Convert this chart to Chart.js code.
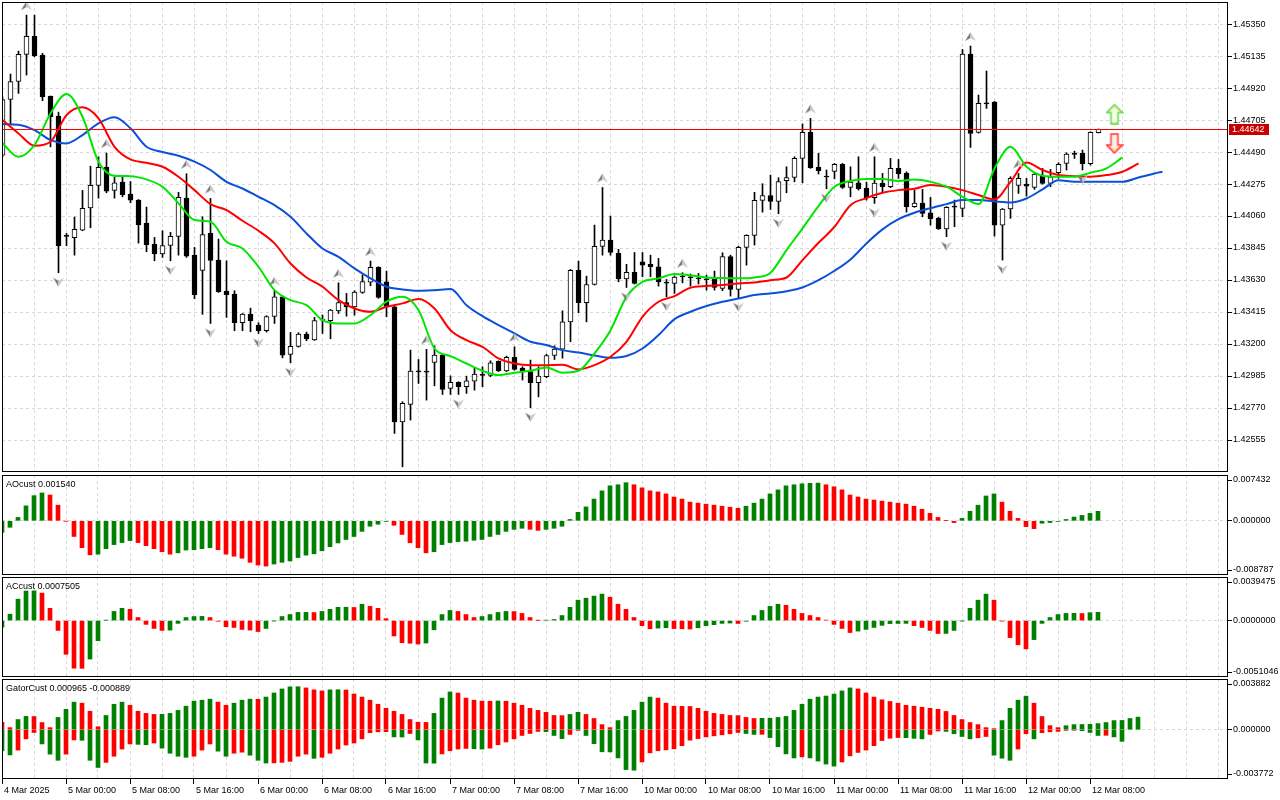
<!DOCTYPE html>
<html>
<head>
<meta charset="utf-8">
<title>H1 chart with Alligator, AO, AC and Gator</title>
<script src="https://cdn.jsdelivr.net/npm/chart.js@4.4.1/dist/chart.umd.min.js"></script>
<style>
  html, body { margin: 0; padding: 0; background: #fff; }
  #wrap { position: relative; width: 1280px; height: 800px; overflow: hidden; }
  #wrap canvas { position: absolute; left: 0; }
</style>
</head>
<body>
<div id="wrap">
  <canvas id="mainChart" width="1280" height="474" style="top:0px"></canvas>
  <canvas id="aoChart" width="1280" height="102" style="top:474px"></canvas>
  <canvas id="acChart" width="1280" height="102" style="top:576px"></canvas>
  <canvas id="gatorChart" width="1280" height="122" style="top:678px"></canvas>
</div>
<script>
// ---- data (one H1 bar per index, bar 0 = 4 Mar 16:00) ----
const timeLabels = ['4 Mar 2025', '5 Mar 00:00', '5 Mar 08:00', '5 Mar 16:00', '6 Mar 00:00', '6 Mar 08:00',
  '6 Mar 16:00', '7 Mar 00:00', '7 Mar 08:00', '7 Mar 16:00', '10 Mar 00:00', '10 Mar 08:00',
  '10 Mar 16:00', '11 Mar 00:00', '11 Mar 08:00', '11 Mar 16:00', '12 Mar 00:00', '12 Mar 08:00'];

const priceTicks = [1.42555, 1.42770, 1.42985, 1.43200, 1.43415, 1.43630, 1.43845,
  1.44060, 1.44275, 1.44490, 1.44705, 1.44920, 1.45135, 1.45350];

const opens = [1.44469, 1.44843, 1.44964, 1.45146, 1.45267, 1.45141, 1.44866, 1.44731, 1.43925, 1.43914,
  1.43965, 1.44115, 1.44266, 1.44387, 1.44232, 1.44288, 1.44207, 1.44167, 1.44012, 1.43869,
  1.43806, 1.43862, 1.43923, 1.44180, 1.43797, 1.43694, 1.43943, 1.43764, 1.43555, 1.43535,
  1.43343, 1.43401, 1.43327, 1.43289, 1.43385, 1.43517, 1.43130, 1.43184, 1.43267, 1.43228,
  1.43360, 1.43356, 1.43423, 1.43479, 1.43450, 1.43546, 1.43616, 1.43715, 1.43618, 1.43450,
  1.42677, 1.42794, 1.43013, 1.43011, 1.43076, 1.43125, 1.42902, 1.42942, 1.42913, 1.42951,
  1.42989, 1.42989, 1.43083, 1.43020, 1.43110, 1.43038, 1.43015, 1.42940, 1.42980, 1.43123,
  1.43166, 1.43349, 1.43695, 1.43477, 1.43600, 1.43856, 1.43898, 1.43809, 1.43638, 1.43681,
  1.43753, 1.43735, 1.43719, 1.43611, 1.43607, 1.43650, 1.43650, 1.43643, 1.43636, 1.43634,
  1.43573, 1.43788, 1.43567, 1.43849, 1.43930, 1.44165, 1.44198, 1.44158, 1.44297, 1.44319,
  1.44447, 1.44622, 1.44387, 1.44326, 1.44360, 1.44407, 1.44252, 1.44283, 1.44248, 1.44183,
  1.44281, 1.44257, 1.44380, 1.44348, 1.44123, 1.44147, 1.44082, 1.44046, 1.43974, 1.44120,
  1.44111, 1.45148, 1.44622, 1.44819, 1.44826, 1.43999, 1.44107, 1.44266, 1.44274, 1.44252,
  1.44328, 1.44279, 1.44351, 1.44413, 1.44478, 1.44481, 1.44411, 1.44620];
const highs = [1.44861, 1.45014, 1.45168, 1.45410, 1.45410, 1.45153, 1.44866, 1.44758, 1.43943, 1.44053,
  1.44232, 1.44395, 1.44458, 1.44483, 1.44324, 1.44324, 1.44292, 1.44171, 1.44120, 1.43916,
  1.43961, 1.43950, 1.44219, 1.44344, 1.43849, 1.44055, 1.44178, 1.43905, 1.43759, 1.43558,
  1.43405, 1.43441, 1.43343, 1.43390, 1.43558, 1.43522, 1.43278, 1.43276, 1.43280, 1.43379,
  1.43394, 1.43432, 1.43611, 1.43540, 1.43558, 1.43663, 1.43757, 1.43719, 1.43690, 1.43455,
  1.42812, 1.43159, 1.43096, 1.43164, 1.43188, 1.43130, 1.42986, 1.42946, 1.42984, 1.43043,
  1.43047, 1.43087, 1.43087, 1.43119, 1.43181, 1.43047, 1.43092, 1.43047, 1.43132, 1.43188,
  1.43423, 1.43701, 1.43757, 1.43656, 1.43999, 1.44252, 1.44060, 1.43836, 1.43735, 1.43815,
  1.43815, 1.43797, 1.43775, 1.43634, 1.43658, 1.43679, 1.43670, 1.43674, 1.43663, 1.43690,
  1.43813, 1.43797, 1.43858, 1.43934, 1.44219, 1.44277, 1.44335, 1.44317, 1.44391, 1.44458,
  1.44678, 1.44716, 1.44481, 1.44369, 1.44413, 1.44413, 1.44391, 1.44458, 1.44288, 1.44458,
  1.44346, 1.44447, 1.44440, 1.44357, 1.44234, 1.44239, 1.44185, 1.44051, 1.44123, 1.44167,
  1.45179, 1.45202, 1.44873, 1.45034, 1.44830, 1.44111, 1.44324, 1.44346, 1.44313, 1.44351,
  1.44380, 1.44373, 1.44418, 1.44485, 1.44496, 1.44503, 1.44626, 1.44645];
const lows = [1.44458, 1.44678, 1.44884, 1.45007, 1.45130, 1.44835, 1.44525, 1.43679, 1.43860, 1.43797,
  1.43961, 1.43981, 1.44180, 1.44216, 1.44180, 1.44189, 1.44149, 1.43878, 1.43820, 1.43759,
  1.43782, 1.43759, 1.43797, 1.43782, 1.43504, 1.43399, 1.43338, 1.43547, 1.43379, 1.43289,
  1.43289, 1.43282, 1.43271, 1.43280, 1.43338, 1.43107, 1.43074, 1.43179, 1.43222, 1.43224,
  1.43271, 1.43235, 1.43405, 1.43387, 1.43394, 1.43540, 1.43591, 1.43507, 1.43383, 1.42599,
  1.42375, 1.42689, 1.42935, 1.42823, 1.42919, 1.42861, 1.42861, 1.42861, 1.42868, 1.42890,
  1.42913, 1.42980, 1.43015, 1.43015, 1.43024, 1.42958, 1.42772, 1.42845, 1.42973, 1.43096,
  1.43105, 1.43215, 1.43410, 1.43349, 1.43596, 1.43797, 1.43797, 1.43618, 1.43580, 1.43603,
  1.43652, 1.43652, 1.43589, 1.43517, 1.43540, 1.43611, 1.43589, 1.43603, 1.43562, 1.43562,
  1.43558, 1.43522, 1.43511, 1.43730, 1.43865, 1.44086, 1.44104, 1.44075, 1.44216, 1.44290,
  1.44283, 1.44380, 1.44342, 1.44243, 1.44310, 1.44245, 1.44189, 1.44234, 1.44167, 1.44145,
  1.44216, 1.44250, 1.44313, 1.44086, 1.44118, 1.44055, 1.43999, 1.43970, 1.43921, 1.43988,
  1.44055, 1.44521, 1.44617, 1.44783, 1.43925, 1.43764, 1.44044, 1.44212, 1.44194, 1.44239,
  1.44274, 1.44257, 1.44313, 1.44369, 1.44447, 1.44369, 1.44402, 1.44618];
const closes = [1.44843, 1.44964, 1.45146, 1.45267, 1.45137, 1.44861, 1.44727, 1.43860, 1.43923, 1.43970,
  1.44111, 1.44266, 1.44387, 1.44227, 1.44283, 1.44203, 1.44167, 1.44001, 1.43867, 1.43806,
  1.43862, 1.43923, 1.44185, 1.43791, 1.43531, 1.43936, 1.43762, 1.43551, 1.43531, 1.43343,
  1.43401, 1.43356, 1.43289, 1.43385, 1.43517, 1.43125, 1.43184, 1.43267, 1.43235, 1.43358,
  1.43365, 1.43428, 1.43479, 1.43450, 1.43549, 1.43620, 1.43715, 1.43513, 1.43450, 1.42677,
  1.42801, 1.43018, 1.43015, 1.43015, 1.43125, 1.42895, 1.42942, 1.42913, 1.42953, 1.42998,
  1.42993, 1.43074, 1.43020, 1.43110, 1.43029, 1.43020, 1.42940, 1.42984, 1.43123, 1.43166,
  1.43349, 1.43695, 1.43477, 1.43600, 1.43856, 1.43898, 1.43815, 1.43638, 1.43681, 1.43607,
  1.43730, 1.43719, 1.43618, 1.43609, 1.43650, 1.43654, 1.43645, 1.43638, 1.43632, 1.43580,
  1.43788, 1.43567, 1.43849, 1.43930, 1.44165, 1.44198, 1.44158, 1.44292, 1.44319, 1.44447,
  1.44622, 1.44384, 1.44364, 1.44322, 1.44407, 1.44252, 1.44288, 1.44243, 1.44183, 1.44281,
  1.44257, 1.44380, 1.44344, 1.44123, 1.44147, 1.44077, 1.44042, 1.43974, 1.44118, 1.44124,
  1.45148, 1.44615, 1.44817, 1.44814, 1.43999, 1.44107, 1.44313, 1.44313, 1.44261, 1.44342,
  1.44279, 1.44324, 1.44407, 1.44476, 1.44474, 1.44411, 1.44622, 1.44642];

// Alligator lines, [bar, price]; jaw/teeth/lips run 8/5/3 bars past the last candle
const jawLine = [[0, 1.44678], [2, 1.44673], [4, 1.44637], [6, 1.44570], [8, 1.44548], [10, 1.44604],
  [12, 1.44682], [14, 1.44723], [16, 1.44649], [18, 1.44525], [20, 1.44490], [22, 1.44465], [24, 1.44425],
  [26, 1.44369], [28, 1.44290], [30, 1.44245], [32, 1.44189], [34, 1.44133], [36, 1.44055], [38, 1.43943],
  [40, 1.43842], [42, 1.43786], [44, 1.43708], [46, 1.43641], [48, 1.43585], [50, 1.43567], [52, 1.43558],
  [54, 1.43562], [56, 1.43569], [58, 1.43461], [60, 1.43387], [62, 1.43327], [64, 1.43271], [66, 1.43215],
  [68, 1.43193], [70, 1.43159], [72, 1.43143], [74, 1.43123], [76, 1.43107], [78, 1.43119], [80, 1.43170],
  [82, 1.43260], [84, 1.43367], [86, 1.43417], [88, 1.43455], [90, 1.43484], [92, 1.43506], [94, 1.43529],
  [96, 1.43540], [98, 1.43555], [100, 1.43580], [102, 1.43629], [104, 1.43692], [106, 1.43768], [108, 1.43876],
  [110, 1.43970], [112, 1.44039], [114, 1.44082], [116, 1.44113], [118, 1.44140], [120, 1.44167], [122, 1.44167],
  [124, 1.44158], [126, 1.44151], [128, 1.44178], [130, 1.44239], [132, 1.44301], [134, 1.44290], [136, 1.44290],
  [138, 1.44290], [140, 1.44290], [142, 1.44319], [144, 1.44346], [145, 1.44357]];
const teethLine = [[0, 1.44705], [2, 1.44615], [4, 1.44532], [6, 1.44559], [8, 1.44738], [10, 1.44790],
  [12, 1.44716], [14, 1.44525], [16, 1.44440], [18, 1.44418], [20, 1.44391], [22, 1.44324], [24, 1.44234],
  [26, 1.44140], [28, 1.44100], [30, 1.44028], [32, 1.43961], [34, 1.43876], [36, 1.43741], [38, 1.43647],
  [40, 1.43585], [42, 1.43495], [44, 1.43439], [46, 1.43417], [48, 1.43450], [50, 1.43473], [52, 1.43502],
  [54, 1.43439], [56, 1.43293], [58, 1.43226], [60, 1.43181], [62, 1.43103], [64, 1.43069], [66, 1.43058],
  [68, 1.43058], [70, 1.43060], [72, 1.43029], [74, 1.43058], [76, 1.43114], [78, 1.43215], [80, 1.43383],
  [82, 1.43484], [84, 1.43522], [86, 1.43578], [88, 1.43589], [90, 1.43596], [92, 1.43607], [94, 1.43614],
  [96, 1.43629], [98, 1.43647], [100, 1.43764], [102, 1.43880], [104, 1.43988], [106, 1.44133], [108, 1.44180],
  [110, 1.44216], [112, 1.44234], [114, 1.44243], [116, 1.44268], [118, 1.44257], [120, 1.44234], [122, 1.44201],
  [124, 1.44171], [126, 1.44290], [128, 1.44420], [130, 1.44369], [132, 1.44335], [134, 1.44328], [136, 1.44324],
  [138, 1.44335], [140, 1.44357], [142, 1.44413]];
const lipsLine = [[0, 1.44548], [2, 1.44458], [4, 1.44537], [6, 1.44749], [8, 1.44879], [10, 1.44727],
  [12, 1.44425], [14, 1.44331], [16, 1.44328], [18, 1.44306], [20, 1.44257], [22, 1.44145], [24, 1.44033],
  [26, 1.44021], [28, 1.43887], [30, 1.43842], [32, 1.43719], [34, 1.43562], [36, 1.43495], [38, 1.43461],
  [40, 1.43360], [42, 1.43338], [44, 1.43338], [46, 1.43394], [48, 1.43484], [50, 1.43517], [52, 1.43428],
  [54, 1.43170], [56, 1.43119], [58, 1.43069], [60, 1.43020], [62, 1.42991], [64, 1.43007], [66, 1.43020],
  [68, 1.43042], [70, 1.43007], [72, 1.43020], [74, 1.43137], [76, 1.43293], [78, 1.43517], [80, 1.43618],
  [82, 1.43641], [84, 1.43670], [86, 1.43661], [88, 1.43647], [90, 1.43643], [92, 1.43641], [94, 1.43647],
  [96, 1.43679], [98, 1.43831], [100, 1.43977], [102, 1.44127], [104, 1.44257], [106, 1.44295], [108, 1.44308],
  [110, 1.44308], [112, 1.44295], [114, 1.44306], [116, 1.44290], [118, 1.44257], [120, 1.44189], [122, 1.44140],
  [124, 1.44380], [126, 1.44525], [128, 1.44391], [130, 1.44331], [132, 1.44324], [134, 1.44324], [136, 1.44351],
  [138, 1.44380], [140, 1.44454]];

const fractalUpBars = [3, 13, 23, 26, 34, 42, 46, 53, 64, 75, 85, 101, 109, 121, 127];
const fractalDownBars = [7, 21, 26, 32, 36, 50, 57, 66, 78, 83, 92, 97, 103, 109, 118, 125, 135];

const bidPrice = 1.44642;
const signalBar = 139;
const signalUpPrice = 1.44745;
const signalDownPrice = 1.44547;

const aoValues = [-0.00188, -0.00105, 0.00055, 0.00243, 0.00408, 0.00452, 0.00419, 0.00254, -0.00005, -0.00254,
  -0.00436, -0.00552, -0.00541, -0.00452, -0.00386, -0.00353, -0.00320, -0.00353, -0.00403, -0.00452,
  -0.00502, -0.00541, -0.00519, -0.00474, -0.00469, -0.00452, -0.00436, -0.00469, -0.00541, -0.00574,
  -0.00607, -0.00673, -0.00717, -0.00734, -0.00701, -0.00673, -0.00651, -0.00596, -0.00557, -0.00535,
  -0.00486, -0.00419, -0.00359, -0.00303, -0.00254, -0.00171, -0.00088, -0.00055, -0.00010, -0.00072,
  -0.00221, -0.00356, -0.00436, -0.00519, -0.00502, -0.00386, -0.00353, -0.00337, -0.00331, -0.00315,
  -0.00303, -0.00254, -0.00221, -0.00171, -0.00138, -0.00121, -0.00138, -0.00155, -0.00138, -0.00121,
  -0.00088, 0.00022, 0.00138, 0.00226, 0.00353, 0.00486, 0.00568, 0.00585, 0.00618, 0.00585,
  0.00535, 0.00486, 0.00469, 0.00436, 0.00386, 0.00353, 0.00303, 0.00287, 0.00270, 0.00254,
  0.00237, 0.00221, 0.00204, 0.00237, 0.00287, 0.00353, 0.00436, 0.00502, 0.00568, 0.00585,
  0.00601, 0.00608, 0.00612, 0.00585, 0.00552, 0.00502, 0.00419, 0.00386, 0.00353, 0.00337,
  0.00320, 0.00303, 0.00287, 0.00270, 0.00237, 0.00188, 0.00121, 0.00055, 0.00005, -0.00028,
  0.00039, 0.00155, 0.00254, 0.00403, 0.00436, 0.00303, 0.00155, 0.00039, -0.00094, -0.00127,
  -0.00039, -0.00028, -0.00010, 0.00022, 0.00061, 0.00088, 0.00121, 0.00154];

const acValues = [-0.00059, 0.00058, 0.00194, 0.00268, 0.00269, 0.00249, 0.00111, -0.00089, -0.00305, -0.00431,
  -0.00432, -0.00348, -0.00182, 0.00003, 0.00083, 0.00111, 0.00102, 0.00028, -0.00034, -0.00071,
  -0.00089, -0.00086, -0.00025, 0.00028, 0.00037, 0.00038, 0.00028, -0.00006, -0.00055, -0.00062,
  -0.00080, -0.00086, -0.00099, -0.00071, -0.00002, 0.00037, 0.00055, 0.00074, 0.00075, 0.00073,
  0.00083, 0.00102, 0.00120, 0.00121, 0.00119, 0.00148, 0.00129, 0.00111, 0.00018, -0.00139,
  -0.00200, -0.00205, -0.00212, -0.00203, -0.00083, 0.00055, 0.00092, 0.00083, 0.00055, 0.00028,
  0.00037, 0.00055, 0.00074, 0.00083, 0.00082, 0.00065, 0.00028, 0.00002, 0.00004, 0.00010,
  0.00046, 0.00120, 0.00185, 0.00203, 0.00222, 0.00240, 0.00212, 0.00148, 0.00102, 0.00028,
  -0.00046, -0.00074, -0.00068, -0.00064, -0.00072, -0.00074, -0.00076, -0.00065, -0.00046, -0.00037,
  -0.00025, -0.00022, -0.00026, -0.00006, 0.00046, 0.00092, 0.00129, 0.00148, 0.00139, 0.00102,
  0.00065, 0.00046, 0.00028, 0.00005, -0.00034, -0.00071, -0.00108, -0.00095, -0.00080, -0.00062,
  -0.00043, -0.00027, -0.00026, -0.00025, -0.00046, -0.00062, -0.00089, -0.00117, -0.00116, -0.00089,
  -0.00002, 0.00111, 0.00185, 0.00240, 0.00185, -0.00003, -0.00154, -0.00219, -0.00256, -0.00172,
  -0.00025, 0.00028, 0.00055, 0.00065, 0.00066, 0.00064, 0.00072, 0.00075];

const gatorUpper = [0.00057, 0.00016, 0.00078, 0.00102, 0.00101, 0.00055, 0.00016, 0.00094, 0.00156, 0.00211,
  0.00203, 0.00141, 0.00023, 0.00109, 0.00195, 0.00211, 0.00187, 0.00141, 0.00125, 0.00117,
  0.00118, 0.00125, 0.00148, 0.00180, 0.00219, 0.00226, 0.00234, 0.00211, 0.00187, 0.00203,
  0.00226, 0.00234, 0.00233, 0.00250, 0.00281, 0.00312, 0.00328, 0.00329, 0.00320, 0.00305,
  0.00297, 0.00305, 0.00306, 0.00304, 0.00273, 0.00250, 0.00226, 0.00195, 0.00164, 0.00141,
  0.00117, 0.00078, 0.00057, 0.00056, 0.00125, 0.00242, 0.00289, 0.00281, 0.00242, 0.00226,
  0.00219, 0.00218, 0.00220, 0.00218, 0.00203, 0.00187, 0.00164, 0.00148, 0.00133, 0.00109,
  0.00108, 0.00117, 0.00133, 0.00117, 0.00086, 0.00039, 0.00016, 0.00070, 0.00102, 0.00148,
  0.00211, 0.00250, 0.00242, 0.00203, 0.00180, 0.00179, 0.00178, 0.00164, 0.00141, 0.00125,
  0.00117, 0.00109, 0.00108, 0.00094, 0.00086, 0.00087, 0.00088, 0.00094, 0.00102, 0.00148,
  0.00195, 0.00234, 0.00250, 0.00258, 0.00273, 0.00297, 0.00320, 0.00312, 0.00281, 0.00250,
  0.00229, 0.00216, 0.00203, 0.00187, 0.00180, 0.00172, 0.00164, 0.00156, 0.00140, 0.00109,
  0.00078, 0.00055, 0.00039, 0.00016, 0.00008, 0.00070, 0.00164, 0.00226, 0.00257, 0.00203,
  0.00101, 0.00031, 0.00016, 0.00031, 0.00039, 0.00040, 0.00041, 0.00047, 0.00055, 0.00070,
  0.00071, 0.00086, 0.000965];
const gatorLower = [-0.00161, -0.00193, -0.00156, -0.00070, -0.00021, -0.00109, -0.00187, -0.00234, -0.00187, -0.00078,
  -0.00081, -0.00234, -0.00289, -0.00250, -0.00203, -0.00148, -0.00109, -0.00112, -0.00115, -0.00102,
  -0.00141, -0.00180, -0.00203, -0.00211, -0.00203, -0.00156, -0.00109, -0.00164, -0.00203, -0.00180,
  -0.00172, -0.00195, -0.00234, -0.00255, -0.00254, -0.00250, -0.00242, -0.00203, -0.00187, -0.00219,
  -0.00211, -0.00180, -0.00148, -0.00117, -0.00102, -0.00070, -0.00023, -0.00016, -0.00015, -0.00055,
  -0.00056, -0.00029, -0.00078, -0.00255, -0.00256, -0.00185, -0.00161, -0.00148, -0.00143, -0.00146,
  -0.00148, -0.00141, -0.00115, -0.00094, -0.00070, -0.00044, -0.00029, -0.00013, -0.00015, -0.00044,
  -0.00068, -0.00036, -0.00005, -0.00044, -0.00107, -0.00169, -0.00170, -0.00216, -0.00305, -0.00310,
  -0.00247, -0.00177, -0.00161, -0.00154, -0.00146, -0.00122, -0.00080, -0.00068, -0.00055, -0.00047,
  -0.00039, -0.00031, -0.00021, -0.00029, -0.00036, -0.00035, -0.00060, -0.00130, -0.00185, -0.00216,
  -0.00208, -0.00216, -0.00240, -0.00263, -0.00279, -0.00247, -0.00200, -0.00174, -0.00156, -0.00122,
  -0.00083, -0.00065, -0.00060, -0.00061, -0.00066, -0.00070, -0.00036, -0.00010, -0.00013, -0.00031,
  -0.00052, -0.00070, -0.00062, -0.00052, -0.00195, -0.00218, -0.00234, -0.00148, -0.00031, -0.00070,
  -0.00023, -0.00016, -0.00013, -0.00005, -0.00004, -0.00008, -0.00021, -0.00044, -0.00043, -0.00055,
  -0.000889];

// ---- drawing ----
const FONT_FAMILY = '"Liberation Sans", Arial, sans-serif';
const FONT = '9px ' + FONT_FAMILY;
const GRID = '#d8d8d8';
const GREEN = '#008000';
const RED = '#ff0000';
const BID_RED = '#ff0000';
const CLEAR = 'rgba(0,0,0,0)';

Chart.defaults.font.family = FONT_FAMILY;
Chart.defaults.font.size = 9;
Chart.defaults.color = '#000';

// every 4th bar gets a vertical grid line, every 8th a time label
const gridBars = [];
for (let b = 0; b <= 152; b += 4) gridBars.push(b);
const labelFor = v => (v % 8 === 0 && timeLabels[v / 8]) || '';

const risingColors = (values, first) =>
  values.map((v, i) => i === 0 ? first : (v > values[i - 1] ? GREEN : RED));
const wideningColors = (values, first) =>
  values.map((v, i) => i === 0 ? first : (Math.abs(v) > Math.abs(values[i - 1]) ? GREEN : RED));

const panelDecor = {
  id: 'panelDecor',
  afterDatasetsDraw(chart, args, opts) {
    if (opts.bid == null) return;
    const { ctx, chartArea: a } = chart;
    const py = Math.round(chart.scales.y.getPixelForValue(opts.bid));
    ctx.save();
    ctx.globalAlpha = 1;
    ctx.globalCompositeOperation = 'source-over';
    ctx.fillStyle = BID_RED;
    ctx.fillRect(a.left, py, a.right - a.left, 1);
    ctx.restore();
  },
  afterDraw(chart, args, opts) {
    const { ctx, chartArea: a } = chart;
    ctx.save();
    ctx.strokeStyle = '#000';
    ctx.lineWidth = 1;
    ctx.strokeRect(a.left + 0.5, a.top + 0.5, a.right - a.left - 1, a.bottom - a.top - 1);
    ctx.font = FONT;
    ctx.fillStyle = '#000';
    ctx.textBaseline = 'middle';
    if (opts.title) ctx.fillText(opts.title, a.left + 4, a.top + 9.5);
    if (opts.bid != null) {
      const py = Math.round(chart.scales.y.getPixelForValue(opts.bid));
      ctx.fillStyle = '#c80000';
      ctx.fillRect(a.right + 1, py - 5, 40, 11);
      ctx.fillStyle = '#fff';
      ctx.fillText(opts.bid.toFixed(5), a.right + 4, py + 0.5);
    }
    ctx.restore();
  }
};
Chart.register(panelDecor);

const xScale = (min, max, showLabels) => ({
  type: 'linear', min: min, max: max, offset: false,
  afterBuildTicks: s => { s.ticks = gridBars.map(v => ({ value: v })); },
  afterFit: s => { s.height = showLabels ? 21 : 0; s.paddingLeft = 0; s.paddingRight = 0; },
  ticks: {
    display: showLabels, autoSkip: false, maxRotation: 0, minRotation: 0,
    align: 'start', labelOffset: 2, padding: 1, callback: v => labelFor(v)
  },
  grid: {
    offset: false, color: GRID, drawTicks: showLabels, tickLength: 5, tickBorderDash: [],
    tickColor: c => (c.tick && labelFor(c.tick.value)) ? '#000' : CLEAR
  },
  border: { display: false, dash: [3, 3] }
});

const fixedWidth = s => { s.width = 52; s.paddingTop = 0; s.paddingBottom = 0; };

const subScale = (lo, hi, labels) => ({
  position: 'right', min: lo, max: hi,
  afterBuildTicks: s => {
    const pad = (hi - lo) * 0.05;
    s.ticks = [{ value: lo + pad }, { value: 0 }, { value: hi - pad }];
  },
  afterFit: fixedWidth,
  ticks: { autoSkip: false, padding: 1, callback: (v, i) => labels[i] },
  grid: { color: c => (c.tick && c.tick.value === 0) ? GRID : CLEAR, tickColor: '#000', tickLength: 4, tickBorderDash: [] },
  border: { display: false, dash: [3, 3] }
});

const baseOptions = (padding, scales, decor) => ({
  responsive: false, animation: false, devicePixelRatio: 1, events: [],
  layout: { padding: padding, autoPadding: false },
  plugins: { legend: { display: false }, tooltip: { enabled: false }, panelDecor: decor },
  scales: scales
});

// point images: fractal arrowheads and the two signal arrows
const fractalImage = (up) => {
  const c = document.createElement('canvas');
  c.width = 11; c.height = 30;
  const g = c.getContext('2d');
  g.translate(0, up ? 1 : 20);
  if (!up) { g.translate(0, 9); g.scale(1, -1); }
  g.beginPath(); g.moveTo(5.5, 0); g.lineTo(5.5, 6); g.lineTo(0, 9); g.closePath();
  g.fillStyle = '#7d7d7d'; g.fill();
  g.beginPath(); g.moveTo(5.5, 0); g.lineTo(11, 9); g.lineTo(5.5, 6); g.closePath();
  g.fillStyle = '#c9c9c9'; g.fill();
  return c;
};

const signalImage = (up) => {
  const c = document.createElement('canvas');
  c.width = 18; c.height = 21;
  const g = c.getContext('2d');
  if (!up) { g.translate(0, 21); g.scale(1, -1); }
  g.beginPath();
  g.moveTo(9, 1); g.lineTo(17, 9); g.lineTo(12.5, 9); g.lineTo(12.5, 20); g.lineTo(5.5, 20);
  g.lineTo(5.5, 9); g.lineTo(1, 9); g.closePath();
  const grad = g.createLinearGradient(0, 0, 18, 0);
  grad.addColorStop(0, up ? '#f0ffe0' : '#fff0e0');
  grad.addColorStop(1, up ? '#fffff0' : '#ffe8e8');
  g.fillStyle = grad; g.fill();
  g.lineWidth = 1.5;
  g.strokeStyle = up ? '#66d44a' : '#ff3a3a';
  g.stroke();
  g.lineWidth = 0.8;
  g.strokeStyle = up ? '#d8e86a' : '#ffa040';
  g.beginPath();
  g.moveTo(9, 3.5); g.lineTo(14, 8); g.moveTo(9, 3.5); g.lineTo(4, 8);
  g.stroke();
  return c;
};

const pointsOf = pairs => pairs.map(p => ({ x: p[0], y: p[1] }));
const lineSet = (pairs, color, order) => ({
  type: 'line', data: pointsOf(pairs), borderColor: color, borderWidth: 2,
  pointRadius: 0, cubicInterpolationMode: 'monotone', order: order
});
const markerSet = (points, image, order) => ({
  type: 'line', data: points, showLine: false, pointStyle: image, pointRadius: 5, order: order
});

const isBull = i => closes[i] - opens[i] > 0.00005;

// ---- main price panel ----
const X_MIN = -0.0625, X_MAX = 153.1875;
new Chart(document.getElementById('mainChart'), {
  type: 'line',
  data: {
    datasets: [
      {
        type: 'bar', order: 6, grouped: false, barThickness: 1, backgroundColor: '#000', borderWidth: 0,
        data: opens.map((o, i) => ({ x: i, y: [lows[i], highs[i]] }))
      },
      {
        type: 'bar', order: 5, grouped: false, barThickness: 5, minBarLength: 1,
        borderWidth: 1, borderColor: '#000', borderSkipped: false,
        backgroundColor: opens.map((o, i) => isBull(i) ? '#fff' : '#000'),
        data: opens.map((o, i) => ({ x: i, y: [Math.min(o, closes[i]), Math.max(o, closes[i])] }))
      },
      lineSet(jawLine, '#0a50d8', 4),
      lineSet(teethLine, '#ff0000', 3),
      lineSet(lipsLine, '#00e600', 2),
      markerSet(fractalUpBars.map(i => ({ x: i, y: highs[i] })), fractalImage(true), 1),
      markerSet(fractalDownBars.map(i => ({ x: i, y: lows[i] })), fractalImage(false), 1),
      markerSet([{ x: signalBar, y: signalUpPrice }], signalImage(true), 0),
      markerSet([{ x: signalBar, y: signalDownPrice }], signalImage(false), 0)
    ]
  },
  options: baseOptions({ left: 2, top: 2, right: 0, bottom: 2 }, {
    x: xScale(X_MIN, X_MAX, false),
    y: {
      position: 'right', min: 1.42340, max: 1.45498,
      afterBuildTicks: s => { s.ticks = priceTicks.map(v => ({ value: v })); },
      afterFit: fixedWidth,
      ticks: { autoSkip: false, padding: 1, callback: v => v.toFixed(5) },
      grid: { color: GRID, tickColor: '#000', tickLength: 4, tickBorderDash: [] },
      border: { display: false, dash: [3, 3] }
    }
  }, { bid: bidPrice })
});

// ---- indicator panels ----
const SUB_MIN = 0, SUB_MAX = 153.25;
const histogram = (values, colors) => ({
  type: 'bar', grouped: false, barThickness: 4, borderWidth: 0, backgroundColor: colors,
  data: values.map((v, i) => ({ x: i, y: v }))
});

new Chart(document.getElementById('aoChart'), {
  type: 'bar',
  data: { datasets: [histogram(aoValues, risingColors(aoValues, GREEN))] },
  options: baseOptions({ left: 2, top: 1, right: 0, bottom: 1 }, {
    x: xScale(SUB_MIN, SUB_MAX, false),
    y: subScale(-0.008787, 0.007432, ['-0.008787', '0.000000', '0.007432'])
  }, { title: 'AOcust 0.001540' })
});

new Chart(document.getElementById('acChart'), {
  type: 'bar',
  data: { datasets: [histogram(acValues, risingColors(acValues, GREEN))] },
  options: baseOptions({ left: 2, top: 1, right: 0, bottom: 1 }, {
    x: xScale(SUB_MIN, SUB_MAX, false),
    y: subScale(-0.0051046, 0.0039475, ['-0.0051046', '0.0000000', '0.0039475'])
  }, { title: 'ACcust 0.0007505' })
});

new Chart(document.getElementById('gatorChart'), {
  type: 'bar',
  data: {
    datasets: [
      histogram(gatorUpper, wideningColors(gatorUpper, RED)),
      histogram(gatorLower, wideningColors(gatorLower, GREEN))
    ]
  },
  options: baseOptions({ left: 2, top: 1, right: 0, bottom: 0 }, {
    x: xScale(SUB_MIN, SUB_MAX, true),
    y: subScale(-0.003772, 0.003882, ['-0.003772', '0.000000', '0.003882'])
  }, { title: 'GatorCust 0.000965 -0.000889' })
});
</script>
</body>
</html>
